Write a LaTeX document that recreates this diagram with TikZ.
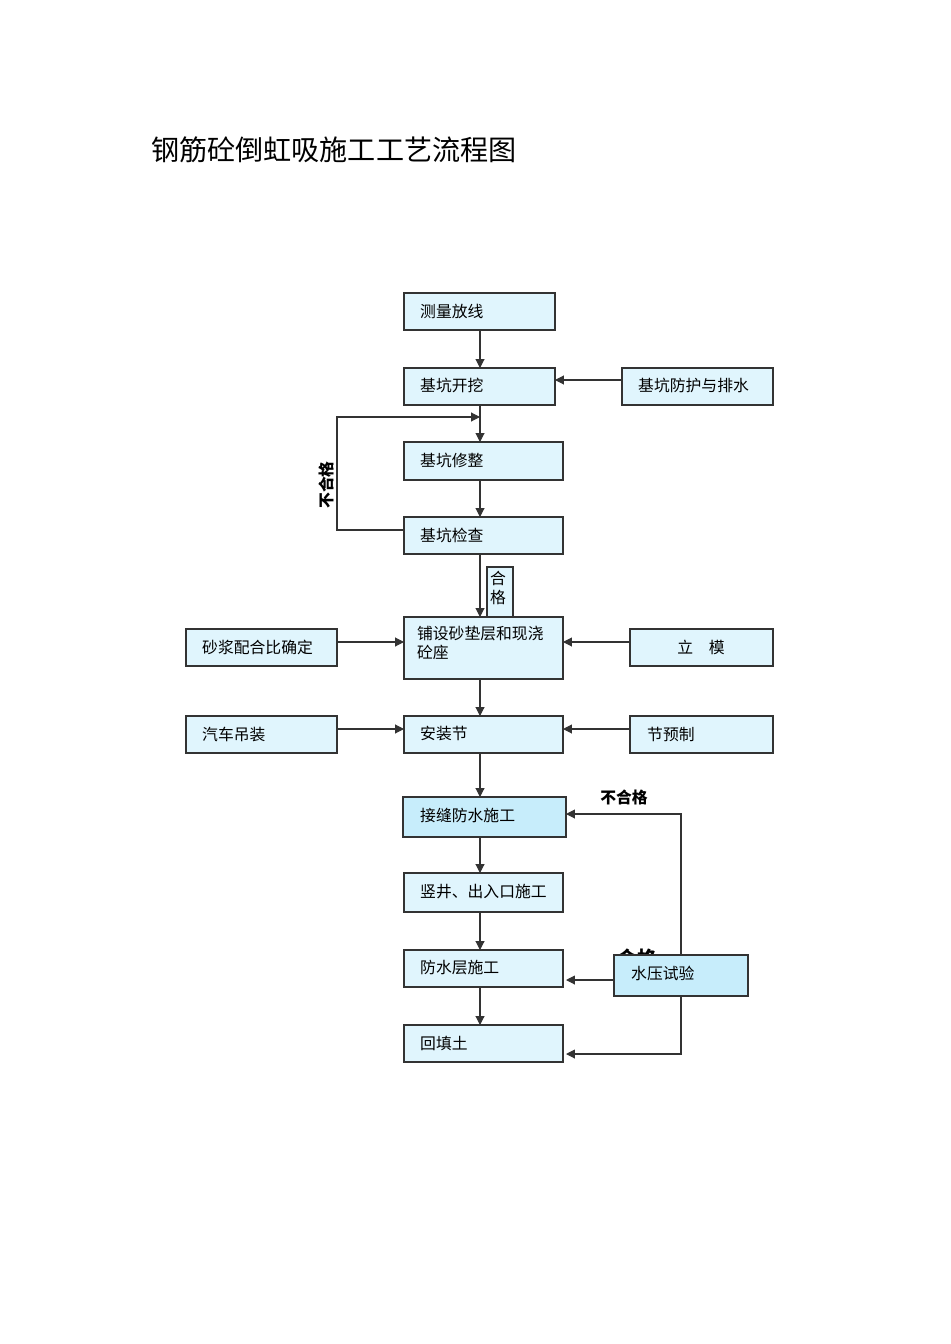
\documentclass[tikz,border=0pt]{standalone}
\usepackage{fontspec}
\newfontfamily\cjk{Noto Sans CJK SC}
\usetikzlibrary{arrows.meta}

\begin{document}
\begin{tikzpicture}[
        x=0.02cm, y=-0.02cm,
        font=\cjk\fontsize{9pt}{11pt}\selectfont,
        stepbox/.style={draw=black!80, fill=cyan!12, semithick},
        flow/.style={draw=black!80, semithick, -{Triangle[length=5pt,width=5pt]}},
        note/.style={font=\cjk\bfseries\fontsize{9pt}{10pt}\selectfont}
    ]
            \useasboundingbox (0,0) rectangle (950,1344);
            \node[anchor=west, font=\cjk\fontsize{16pt}{18pt}\selectfont] (title) at (145,150) {钢筋砼倒虹吸施工工艺流程图};
            % boxes, given by corners
            \newcommand\stepbox[6][cyan!12]{%
                \draw[stepbox, fill=#1] (#3,#4) rectangle (#5,#6);
                \coordinate (#2) at ({(#3+#5)/2},{(#4+#6)/2});
            }
            \stepbox{survey}{404}{293}{555}{330}
            \stepbox{dig}{404}{368}{555}{405}
            \stepbox{guard}{622}{368}{773}{405}
            \stepbox{trim}{404}{442}{563}{480}
            \stepbox{check}{404}{517}{563}{554}
            \stepbox{bed}{404}{617}{563}{679}
            \stepbox{mortar}{186}{629}{337}{666}
            \stepbox{form}{630}{629}{773}{666}
            \stepbox{crane}{186}{716}{337}{753}
            \stepbox{install}{404}{716}{563}{753}
            \stepbox{precast}{630}{716}{773}{753}
            \stepbox[cyan!22]{joint}{403}{797}{566}{837}
            \stepbox{shaft}{404}{873}{563}{912}
            \stepbox{proof}{404}{950}{563}{987}
            \stepbox{fill}{404}{1025}{563}{1062}
            \draw[stepbox] (487,567) rectangle (513,617);
            \node[anchor=north west, inner sep=1pt, align=left] (okA) at (488,569) {合\\格};
            % labels
            \node[anchor=west] at (414,311) {测量放线};
            \node[anchor=west] at (414,385) {基坑开挖};
            \node[anchor=west] at (632,385) {基坑防护与排水};
            \node[anchor=west] at (414,460) {基坑修整};
            \node[anchor=west] at (414,535) {基坑检查};
            \node[anchor=north west, align=left, inner sep=1pt] at (415,624) {铺设砂垫层和现浇\\砼座};
            \node[anchor=west] at (196,647) {砂浆配合比确定};
            \node at (701,647) {立\quad 模};
            \node[anchor=west] at (196,734) {汽车吊装};
            \node[anchor=west] at (414,734) {安装节};
            \node[anchor=west] at (641,734) {节预制};
            \node[anchor=west] at (414,815) {接缝防水施工};
            \node[anchor=west] at (414,892) {竖井、出入口施工};
            \node[anchor=west] at (414,968) {防水层施工};
            \node[anchor=west] at (414,1043) {回填土};
            \node[note, rotate=90] (failA) at (326,485) {不合格};
            \node[note] (failB) at (624,797) {不合格};
            \node[note, font=\cjk\bfseries\fontsize{11pt}{12pt}\selectfont] (okB) at (637,958) {合格};
            % test box on top of its label
            \stepbox[cyan!22]{test}{614}{955}{748}{996}
            \node[anchor=west] at (625,973) {水压试验};
            % main line
            \draw[flow] (480,330) -- (480,368);
            \draw[flow] (480,405) -- (480,442);
            \draw[flow] (480,480) -- (480,517);
            \draw[flow] (480,554) -- (480,617);
            \draw[flow] (480,679) -- (480,716);
            \draw[flow] (480,753) -- (480,797);
            \draw[flow] (480,837) -- (480,873);
            \draw[flow] (480,912) -- (480,950);
            \draw[flow] (480,987) -- (480,1025);
            % side inputs
            \draw[flow] (622,380) -- (555,380);
            \draw[flow] (337,642) -- (404,642);
            \draw[flow] (630,642) -- (563,642);
            \draw[flow] (337,729) -- (404,729);
            \draw[flow] (630,729) -- (563,729);
            % loops
            \draw[flow] (404,530) -- (337,530) -- (337,417) -- (480,417);
            \draw[flow] (681,955) -- (681,814) -- (566,814);
            \draw[flow] (614,980) -- (566,980);
            \draw[flow] (681,996) -- (681,1054) -- (566,1054);
\end{tikzpicture}
\end{document}
